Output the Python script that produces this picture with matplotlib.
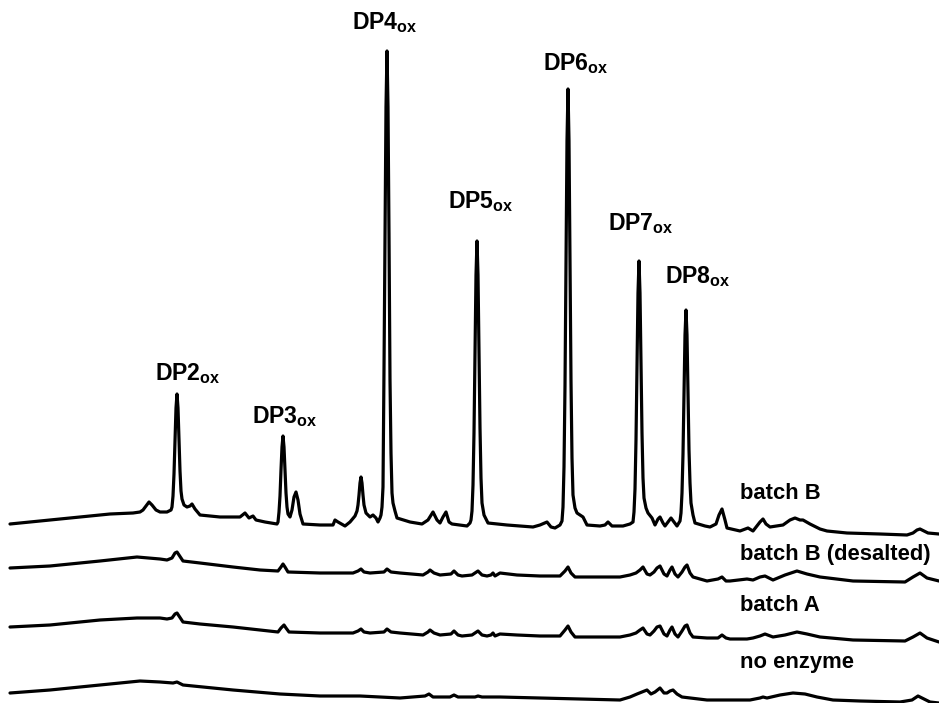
import matplotlib
matplotlib.use("Agg")
import matplotlib.pyplot as plt

plt.rcParams['font.family'] = ['Liberation Sans', 'DejaVu Sans']
plt.rcParams['mathtext.fontset'] = 'custom'
plt.rcParams['mathtext.bf'] = 'Liberation Sans:bold'
plt.rcParams['mathtext.rm'] = 'Liberation Sans:bold'

# ---------------- data (retention axis in arbitrary units, signal in a.u.) -------------
batchB_rt = [10, 40, 80, 110, 133, 140, 143, 146, 149, 152, 156, 160, 167, 171, 172, 173, 174, 175, 176, 177,
             178, 179, 180, 181, 182, 184, 187, 190, 192, 195, 200, 220, 240, 245, 249, 253, 256, 265, 277, 278,
             279, 280, 281, 282, 283, 284, 285, 286, 287, 288, 290, 292, 294, 296, 298, 300, 303, 320, 333, 335,
             338, 345, 350, 355, 357, 358, 359, 360, 361, 362, 363, 364, 366, 370, 373, 376, 378, 380, 381, 382,
             383, 384, 385, 386, 387, 388, 389, 390, 391, 392, 393, 395, 397, 410, 422, 428, 433, 437, 440, 443,
             446, 449, 452, 467, 470, 471, 472, 473, 474, 475, 476, 477, 478, 479, 480, 481, 482, 484, 488, 507,
             520, 533, 540, 547, 551, 555, 560, 562, 563, 564, 565, 566, 567, 568, 569, 570, 571, 572, 573, 575,
             577, 580, 583, 587, 600, 605, 608, 612, 623, 630, 633, 634, 635, 636, 637, 638, 639, 640, 641, 642,
             643, 644, 646, 648, 652, 655, 658, 660, 663, 665, 668, 671, 674, 677, 680, 681, 682, 683, 684, 685,
             686, 687, 688, 689, 690, 691, 693, 695, 705, 710, 716, 719, 722, 725, 727, 740, 748, 753, 760, 763,
             766, 770, 783, 790, 795, 800, 803, 810, 820, 827, 847, 880, 907, 913, 917, 920, 924, 928, 939]
batchB_sig = [179, 182, 186, 189, 190, 191, 193, 197, 201, 198, 193, 191, 191, 193, 196, 207, 229, 263, 295, 309,
              295, 263, 232, 212, 204, 198, 196, 197, 199, 194, 188, 186, 186, 190, 185, 187, 183, 181, 179, 181,
              191, 207, 233, 256, 267, 256, 233, 210, 196, 189, 186, 193, 206, 211, 203, 189, 179, 178, 178, 183,
              181, 177, 181, 187, 192, 198, 208, 220, 226, 220, 208, 198, 190, 186, 188, 185, 181, 185, 188, 196,
              216, 333, 469, 596, 652, 596, 469, 323, 250, 210, 200, 192, 185, 181, 179, 183, 191, 183, 180, 186,
              191, 181, 179, 177, 180, 183, 192, 218, 270, 352, 428, 462, 428, 352, 275, 225, 200, 188, 180, 178,
              177, 176, 178, 181, 176, 175, 178, 182, 196, 236, 317, 444, 562, 614, 562, 444, 322, 245, 208, 195,
              190, 188, 186, 178, 177, 178, 181, 177, 177, 179, 181, 191, 214, 263, 339, 410, 442, 410, 339, 270,
              225, 205, 195, 190, 185, 178, 184, 186, 180, 177, 181, 185, 181, 177, 182, 190, 210, 249, 310, 368,
              393, 368, 310, 253, 220, 200, 188, 180, 177, 176, 179, 188, 194, 183, 175, 172, 175, 172, 181, 184,
              179, 176, 178, 183, 185, 183, 183, 179, 174, 172, 170, 169, 168, 170, 173, 174, 172, 170, 169]

desalted_rt = [10, 50, 100, 137, 160, 167, 172, 175, 177, 179, 183, 200, 233, 260, 278, 281, 283, 285, 288, 320,
               353, 358, 361, 364, 370, 384, 387, 391, 400, 423, 428, 430, 434, 440, 451, 454, 458, 462, 472, 478,
               482, 487, 491, 493, 495, 500, 517, 540, 560, 565, 568, 571, 575, 600, 620, 630, 636, 640, 643, 647,
               650, 654, 657, 660, 664, 667, 670, 672, 675, 678, 682, 685, 687, 690, 693, 707, 718, 722, 726, 730,
               747, 753, 760, 765, 773, 785, 797, 807, 820, 853, 905, 913, 920, 927, 939]
desalted_sig = [135, 137, 142, 146, 144, 143, 145, 150, 151, 148, 142, 140, 136, 133, 132, 136, 139, 136, 131, 130,
                130, 132, 134, 131, 130, 131, 134, 131, 130, 128, 131, 133, 130, 128, 129, 132, 128, 127, 128, 132,
                128, 127, 128, 130, 127, 130, 128, 127, 127, 132, 136, 130, 126, 126, 126, 128, 130, 133, 136, 129,
                128, 131, 135, 137, 129, 127, 133, 136, 129, 126, 131, 136, 138, 130, 126, 122, 124, 126, 122, 122,
                124, 123, 126, 127, 123, 128, 132, 129, 126, 122, 121, 126, 130, 125, 122]

batchA_rt = [10, 50, 100, 137, 160, 167, 172, 175, 177, 179, 183, 200, 233, 260, 278, 281, 284, 286, 289, 320,
             353, 358, 361, 364, 370, 384, 387, 391, 400, 423, 428, 430, 434, 440, 451, 454, 458, 462, 472, 478,
             482, 487, 491, 493, 495, 500, 517, 540, 560, 565, 568, 571, 575, 600, 620, 630, 636, 640, 643, 647,
             650, 654, 657, 660, 664, 667, 670, 672, 675, 678, 682, 685, 687, 690, 693, 707, 718, 722, 726, 730,
             747, 753, 760, 765, 773, 785, 797, 807, 820, 853, 905, 913, 920, 927, 939]
batchA_sig = [76, 78, 83, 85, 85, 84, 85, 89, 90, 87, 81, 79, 76, 73, 71, 75, 78, 75, 71, 70,
              70, 72, 74, 71, 70, 71, 74, 71, 70, 68, 71, 73, 70, 68, 69, 72, 68, 67, 68, 72,
              68, 67, 68, 70, 67, 69, 68, 67, 67, 73, 77, 71, 66, 66, 66, 68, 70, 73, 75, 69,
              68, 72, 76, 77, 69, 67, 73, 76, 69, 66, 72, 77, 78, 70, 66, 65, 65, 68, 65, 64,
              64, 65, 67, 69, 66, 68, 71, 69, 66, 63, 62, 66, 70, 65, 61]

noenz_rt = [10, 50, 100, 140, 160, 173, 177, 183, 233, 280, 320, 360, 400, 425, 429, 433, 450, 454, 458, 475,
            478, 482, 500, 540, 580, 620, 630, 637, 642, 647, 651, 655, 660, 664, 667, 670, 673, 677, 682, 707,
            730, 750, 760, 763, 767, 780, 793, 805, 817, 833, 860, 900, 912, 918, 922, 930, 939]
noenz_sig = [10, 13, 18, 22, 21, 20, 21, 18, 13, 9, 7, 7, 5, 7, 9, 6, 6, 8, 6, 6,
             7, 6, 6, 5, 4, 3, 6, 9, 11, 13, 9, 11, 15, 10, 10, 12, 13, 9, 6, 3,
             3, 3, 5, 6, 5, 8, 10, 9, 6, 3, 2, 1, 3, 7, 5, 1, 0]

peak_labels = ["DP2", "DP3", "DP4", "DP5", "DP6", "DP7", "DP8"]
peak_label_rt = [155, 252, 352, 448, 543, 608, 665]
peak_label_sig = [323, 280, 674, 495, 633, 473, 420]

trace_names = ["batch B", "batch B (desalted)", "batch A", "no enzyme"]
trace_label_sig = [204, 143, 92, 35]
trace_label_rt = 740

# ---------------- figure -------------
fig = plt.figure(figsize=(9.39, 7.03), dpi=100)
ax = fig.add_axes([0, 0, 1, 1])
ax.set_xlim(0, 939)
ax.set_ylim(0, 703)
ax.axis('off')

for rt, sig in [(batchB_rt, batchB_sig), (desalted_rt, desalted_sig),
                (batchA_rt, batchA_sig), (noenz_rt, noenz_sig)]:
    ax.plot(rt, sig, color='black', lw=2.3, solid_joinstyle='round',
            solid_capstyle='round', clip_on=False)

for lab, x, y in zip(peak_labels, peak_label_rt, peak_label_sig):
    ax.text(x, y, lab + r"$_{\mathbf{ox}}$", fontsize=16.6, fontweight='bold',
            ha='left', va='baseline')

for name, y in zip(trace_names, trace_label_sig):
    ax.text(trace_label_rt, y, name, fontsize=15.8, fontweight='bold',
            ha='left', va='baseline')

fig.savefig("out.png", dpi=100, facecolor='white')
